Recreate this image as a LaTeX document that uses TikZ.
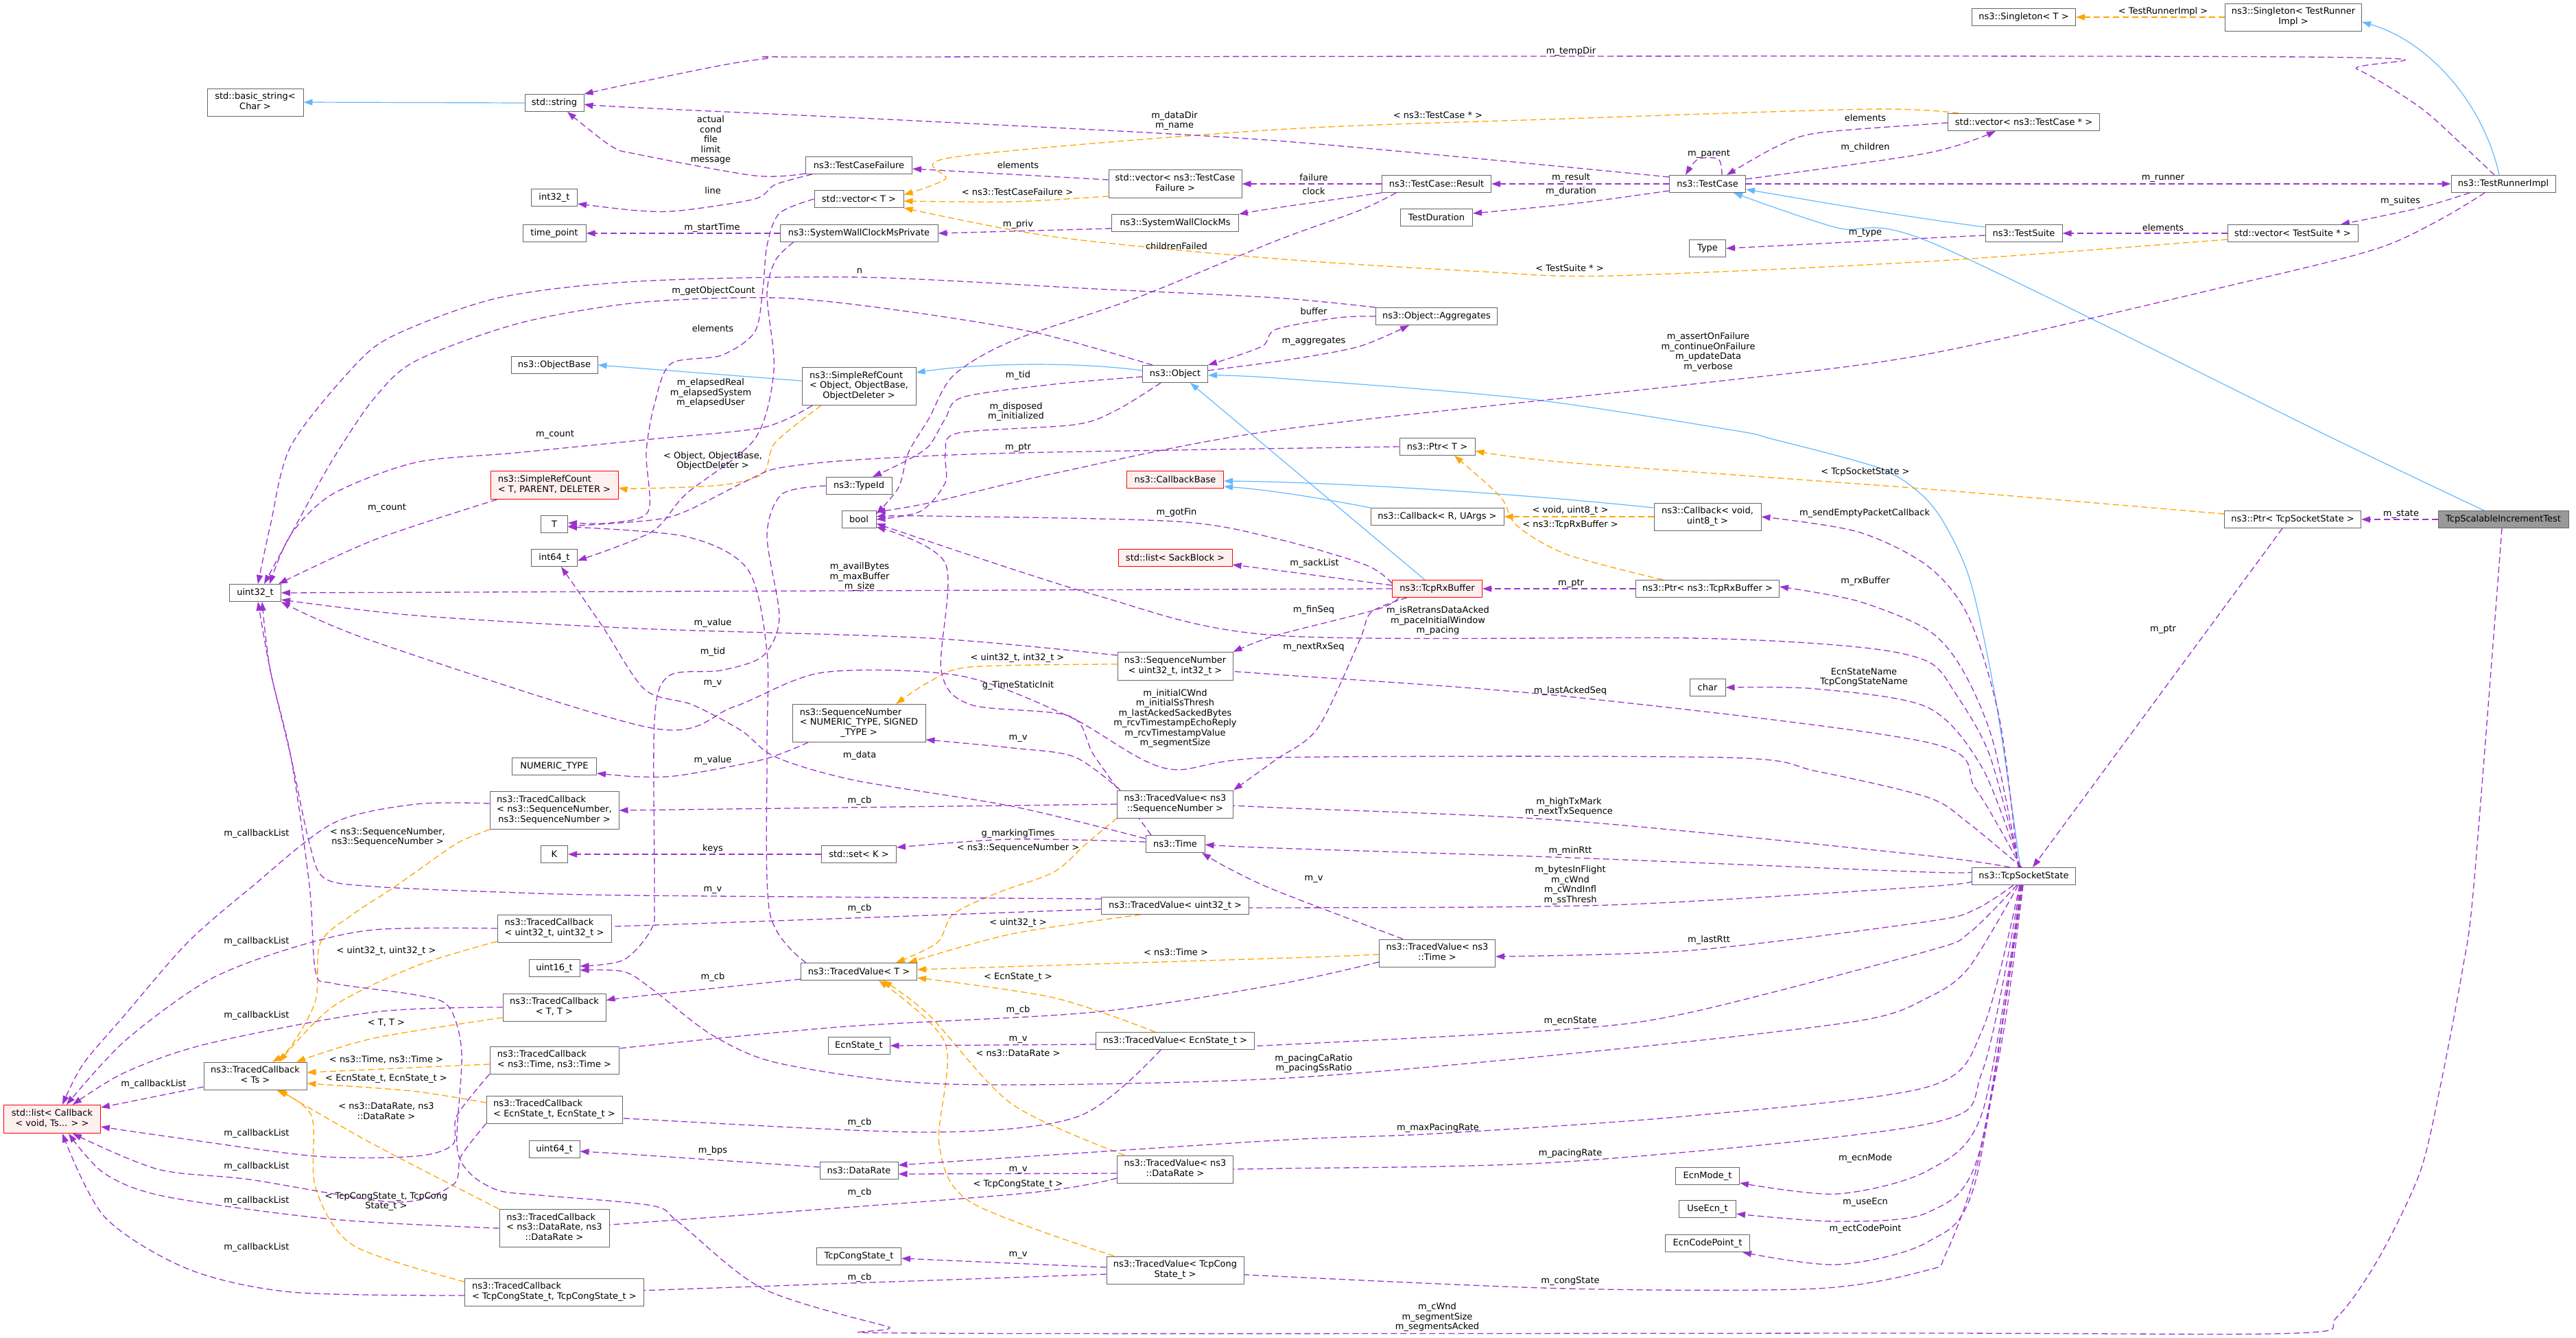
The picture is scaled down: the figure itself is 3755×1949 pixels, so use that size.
\documentclass[tikz,border=0pt]{standalone}
\usepackage{fontspec}
\setmainfont{DejaVu Sans}
\usetikzlibrary{arrows.meta}
\definecolor{usec}{HTML}{9A32CD}
\definecolor{tmplc}{HTML}{FFA500}
\definecolor{inhc}{HTML}{63B8FF}
\definecolor{boxgray}{HTML}{666666}
\definecolor{redfill}{HTML}{FFF0F0}
\definecolor{grayfill}{HTML}{999999}
\newcommand\dgfont{\fontsize{13}{14.5}\selectfont}
\newcommand\twol[2]{\begin{tabular}{@{}l@{}}#1\\\multicolumn{1}{@{}c@{}}{#2}\end{tabular}}
\newcommand\threel[3]{\begin{tabular}{@{}l@{}}#1\\#2\\\multicolumn{1}{@{}c@{}}{#3}\end{tabular}}
\pgfdeclarelayer{bg}
\pgfsetlayers{bg,main}
\tikzset{
  box/.style={draw=boxgray, fill=white, line width=1pt, inner sep=2pt, font=\dgfont},
  redbox/.style={box, draw=red, fill=redfill},
  graybox/.style={box, fill=grayfill},
  sz/.style 2 args={minimum width=#1, minimum height=#2},
  lbl/.style={inner sep=0pt, font=\dgfont, align=center},
  use/.style={draw=usec, line width=1.3pt, dash pattern=on 9pt off 5pt, -{Triangle[length=13pt,width=9pt]}},
  tmpl/.style={draw=tmplc, line width=1.3pt, dash pattern=on 9pt off 5pt, -{Triangle[length=13pt,width=9pt]}},
  inh/.style={draw=inhc, line width=1.2pt, -{Triangle[length=13pt,width=9pt]}},
}
\begin{document}
\begin{tikzpicture}[x=1pt,y=-1pt]
\useasboundingbox (0,0) rectangle (3755,1949);
% ---------------- nodes ----------------
\node[box,sz={140}{40}] (bstr) at (372,149) {\twol{std::basic\_string<}{Char >}};
\node[box,sz={86}{25}] (str) at (808,150) {std::string};
\node[box,sz={67}{25}] (i32) at (808,288) {int32\_t};
\node[box,sz={92}{25}] (tp) at (808,340) {time\_point};
\node[box,sz={126}{25}] (ob) at (808,532) {ns3::ObjectBase};
\node[redbox,sz={186}{41}] (srct) at (808,707) {\twol{ns3::SimpleRefCount}{< T, PARENT, DELETER >}};
\node[box,sz={39}{25}] (T) at (808,764) {T};
\node[box,sz={67}{25}] (i64) at (808,813) {int64\_t};
\node[box,sz={75}{25}] (u32) at (372,864) {uint32\_t};
\node[box,sz={123}{25}] (numt) at (808,1117) {NUMERIC\_TYPE};
\node[box,sz={188}{55}] (tcsn) at (808,1181) {\threel{ns3::TracedCallback}{< ns3::SequenceNumber,}{ns3::SequenceNumber >}};
\node[box,sz={39}{25}] (K) at (808,1245) {K};
\node[box,sz={166}{40}] (tcu) at (808,1353) {\twol{ns3::TracedCallback}{< uint32\_t, uint32\_t >}};
\node[box,sz={74}{25}] (u16) at (808,1411) {uint16\_t};
\node[box,sz={150}{40}] (tctt) at (808,1468) {\twol{ns3::TracedCallback}{< T, T >}};
\node[box,sz={188}{40}] (tctime) at (808,1545) {\twol{ns3::TracedCallback}{< ns3::Time, ns3::Time >}};
\node[box,sz={198}{40}] (tcecn) at (808,1617) {\twol{ns3::TracedCallback}{< EcnState\_t, EcnState\_t >}};
\node[box,sz={74}{25}] (u64) at (808,1675) {uint64\_t};
\node[box,sz={160}{55}] (tcdr) at (808,1790) {\threel{ns3::TracedCallback}{< ns3::DataRate, ns3}{::DataRate >}};
\node[box,sz={261}{40}] (tccong) at (808,1883) {\twol{ns3::TracedCallback}{< TcpCongState\_t, TcpCongState\_t >}};
\node[box,sz={150}{40}] (tcts) at (372,1568) {\twol{ns3::TracedCallback}{< Ts >}};
\node[redbox,sz={141}{41}] (cbl) at (76,1631) {\twol{std::list< Callback}{< void, Ts... > >}};
\node[box,sz={155}{25}] (tcf) at (1252,241) {ns3::TestCaseFailure};
\node[box,sz={130}{25}] (vect) at (1252,290) {std::vector< T >};
\node[box,sz={230}{25}] (swcp) at (1252,340) {ns3::SystemWallClockMsPrivate};
\node[box,sz={166}{55}] (srco) at (1252,563) {\threel{ns3::SimpleRefCount}{< Object, ObjectBase,}{ObjectDeleter >}};
\node[box,sz={96}{25}] (tid) at (1252,708) {ns3::TypeId};
\node[box,sz={50}{25}] (bool) at (1252,757) {bool};
\node[box,sz={194}{55}] (snn) at (1252,1054) {\threel{ns3::SequenceNumber}{< NUMERIC\_TYPE, SIGNED}{\_TYPE >}};
\node[box,sz={109}{25}] (setk) at (1252,1245) {std::set< K >};
\node[box,sz={169}{25}] (tvt) at (1252,1416) {ns3::TracedValue< T >};
\node[box,sz={90}{25}] (ecns) at (1252,1524) {EcnState\_t};
\node[box,sz={114}{25}] (dr) at (1252,1706) {ns3::DataRate};
\node[box,sz={123}{25}] (tcs) at (1252,1831) {TcpCongState\_t};
\node[box,sz={194}{41}] (vtcf) at (1713,268) {\twol{std::vector< ns3::TestCase}{Failure >}};
\node[box,sz={185}{25}] (swc) at (1713,325) {ns3::SystemWallClockMs};
\node[box,sz={95}{25}] (obj) at (1713,545) {ns3::Object};
\node[redbox,sz={141}{25}] (cbb) at (1713,699) {ns3::CallbackBase};
\node[redbox,sz={166}{25}] (sack) at (1713,813) {std::list< SackBlock >};
\node[box,sz={168}{41}] (snu) at (1713,971) {\twol{ns3::SequenceNumber}{< uint32\_t, int32\_t >}};
\node[box,sz={169}{40}] (tvsn) at (1713,1172) {\twol{ns3::TracedValue< ns3}{::SequenceNumber >}};
\node[box,sz={86}{25}] (time) at (1713,1230) {ns3::Time};
\node[box,sz={215}{25}] (tvu) at (1713,1320) {ns3::TracedValue< uint32\_t >};
\node[box,sz={231}{25}] (tvecn) at (1713,1517) {ns3::TracedValue< EcnState\_t >};
\node[box,sz={169}{40}] (tvdr) at (1713,1704) {\twol{ns3::TracedValue< ns3}{::DataRate >}};
\node[box,sz={200}{40}] (tvcong) at (1713,1851) {\twol{ns3::TracedValue< TcpCong}{State\_t >}};
\node[box,sz={159}{25}] (res) at (2094,268) {ns3::TestCase::Result};
\node[box,sz={105}{25}] (tdur) at (2094,317) {TestDuration};
\node[box,sz={177}{25}] (agg) at (2094,461) {ns3::Object::Aggregates};
\node[box,sz={110}{25}] (ptrt) at (2095,651) {ns3::Ptr< T >};
\node[box,sz={194}{25}] (cbr) at (2095,753) {ns3::Callback< R, UArgs >};
\node[redbox,sz={131}{25}] (rxb) at (2095,858) {ns3::TcpRxBuffer};
\node[box,sz={169}{40}] (tvtime) at (2095,1389) {\twol{ns3::TracedValue< ns3}{::Time >}};
\node[box,sz={111}{25}] (tc) at (2489,268) {ns3::TestCase};
\node[box,sz={53}{25}] (type) at (2489,362) {Type};
\node[box,sz={156}{40}] (cbv) at (2489,753) {\twol{ns3::Callback< void,}{uint8\_t >}};
\node[box,sz={209}{25}] (ptrrx) at (2489,858) {ns3::Ptr< ns3::TcpRxBuffer >};
\node[box,sz={52}{25}] (char) at (2489,1002) {char};
\node[box,sz={93}{25}] (ecnm) at (2489,1714) {EcnMode\_t};
\node[box,sz={83}{25}] (usee) at (2489,1762) {UseEcn\_t};
\node[box,sz={123}{25}] (ecp) at (2489,1812) {EcnCodePoint\_t};
\node[box,sz={151}{25}] (sgt) at (2950,25) {ns3::Singleton< T >};
\node[box,sz={221}{25}] (vtc) at (2950,178) {std::vector< ns3::TestCase * >};
\node[box,sz={112}{25}] (ts) at (2950,340) {ns3::TestSuite};
\node[box,sz={151}{25}] (tss) at (2950,1277) {ns3::TcpSocketState};
\node[box,sz={199}{40}] (sgr) at (3343,25) {\twol{ns3::Singleton< TestRunner}{Impl >}};
\node[box,sz={190}{25}] (vts) at (3342,340) {std::vector< TestSuite * >};
\node[box,sz={199}{25}] (ptrss) at (3342,757) {ns3::Ptr< TcpSocketState >};
\node[box,sz={152}{25}] (tri) at (3649,268) {ns3::TestRunnerImpl};
\node[graybox,sz={190}{25}] (tsit) at (3649,757) {TcpScalableIncrementTest};
% ---------------- labels ----------------
\node[lbl] (l1) at (1036,204) {actual\\cond\\file\\limit\\message};
\node[lbl] (l2) at (1039,278) {line};
\node[lbl] (l3) at (1484,241) {elements};
\node[lbl] (l4) at (1483,280) {< ns3::TestCaseFailure >};
\node[lbl] (l5) at (1484,327) {m\_priv};
\node[lbl] (l6) at (1715,359) {childrenFailed};
\node[lbl] (l7) at (1712,176) {m\_dataDir\\m\_name};
\node[lbl] (l8) at (1038,332) {m\_startTime};
\node[lbl] (l9) at (1253,395) {n};
\node[lbl] (l10) at (1040,424) {m\_getObjectCount};
\node[lbl] (l11) at (1039,479) {elements};
\node[lbl] (l12) at (1036,573) {m\_elapsedReal\\m\_elapsedSystem\\m\_elapsedUser};
\node[lbl] (l13) at (1484,547) {m\_tid};
\node[lbl] (l14) at (1481,600) {m\_disposed\\m\_initialized};
\node[lbl] (l15) at (1484,652) {m\_ptr};
\node[lbl] (l16) at (2290,75) {m\_tempDir};
\node[lbl] (l17) at (2096,168) {< ns3::TestCase * >};
\node[lbl] (l18) at (2719,172) {elements};
\node[lbl] (l19) at (2491,224) {m\_parent};
\node[lbl] (l20) at (2719,215) {m\_children};
\node[lbl] (l21) at (1915,259) {failure};
\node[lbl] (l22) at (2290,259) {m\_result};
\node[lbl] (l23) at (1915,279) {clock};
\node[lbl] (l24) at (2290,279) {m\_duration};
\node[lbl] (l25) at (2719,339) {m\_type};
\node[lbl] (l26) at (2288,391) {< TestSuite * >};
\node[lbl] (l27) at (1915,454) {buffer};
\node[lbl] (l28) at (1915,497) {m\_aggregates};
\node[lbl] (l29) at (2490,513) {m\_assertOnFailure\\m\_continueOnFailure\\m\_updateData\\m\_verbose};
\node[lbl] (l30) at (3153,17) {< TestRunnerImpl >};
\node[lbl] (l31) at (3153,260) {m\_runner};
\node[lbl] (l32) at (3499,293) {m\_suites};
\node[lbl] (l33) at (3153,332) {elements};
\node[lbl] (l34) at (564,740) {m\_count};
\node[lbl] (l35) at (809,633) {m\_count};
\node[lbl] (l36) at (374,1215) {m\_callbackList};
\node[lbl] (l37) at (565,1220) {< ns3::SequenceNumber,\\ns3::SequenceNumber >};
\node[lbl] (l38) at (1039,672) {< Object, ObjectBase,\\ObjectDeleter >};
\node[lbl] (l39) at (1715,747) {m\_gotFin};
\node[lbl] (l40) at (1253,841) {m\_availBytes\\m\_maxBuffer\\m\_size};
\node[lbl] (l41) at (1039,908) {m\_value};
\node[lbl] (l42) at (1039,950) {m\_tid};
\node[lbl] (l43) at (1483,959) {< uint32\_t, int32\_t >};
\node[lbl] (l44) at (1039,996) {m\_v};
\node[lbl] (l45) at (1484,999) {g\_TimeStaticInit};
\node[lbl] (l46) at (1713,1047) {m\_initialCWnd\\m\_initialSsThresh\\m\_lastAckedSackedBytes\\m\_rcvTimestampEchoReply\\m\_rcvTimestampValue\\m\_segmentSize};
\node[lbl] (l47) at (1484,1076) {m\_v};
\node[lbl] (l48) at (1039,1108) {m\_value};
\node[lbl] (l49) at (1253,1101) {m\_data};
\node[lbl] (l50) at (1253,1167) {m\_cb};
\node[lbl] (l51) at (1484,1215) {g\_markingTimes};
\node[lbl] (l52) at (1484,1236) {< ns3::SequenceNumber >};
\node[lbl] (l53) at (1039,1237) {keys};
\node[lbl] (l54) at (2719,688) {< TcpSocketState >};
\node[lbl] (l55) at (2289,744) {< void, uint8\_t >};
\node[lbl] (l56) at (2289,765) {< ns3::TcpRxBuffer >};
\node[lbl] (l57) at (2718,748) {m\_sendEmptyPacketCallback};
\node[lbl] (l58) at (1916,821) {m\_sackList};
\node[lbl] (l59) at (2290,850) {m\_ptr};
\node[lbl] (l60) at (2719,847) {m\_rxBuffer};
\node[lbl] (l61) at (1915,889) {m\_finSeq};
\node[lbl] (l62) at (2096,905) {m\_isRetransDataAcked\\m\_paceInitialWindow\\m\_pacing};
\node[lbl] (l63) at (1915,943) {m\_nextRxSeq};
\node[lbl] (l64) at (2717,987) {EcnStateName\\TcpCongStateName};
\node[lbl] (l65) at (2289,1007) {m\_lastAckedSeq};
\node[lbl] (l66) at (2287,1176) {m\_highTxMark\\m\_nextTxSequence};
\node[lbl] (l67) at (2289,1240) {m\_minRtt};
\node[lbl] (l68) at (2289,1290) {m\_bytesInFlight\\m\_cWnd\\m\_cWndInfl\\m\_ssThresh};
\node[lbl] (l69) at (1915,1281) {m\_v};
\node[lbl] (l70) at (3500,749) {m\_state};
\node[lbl] (l71) at (3153,917) {m\_ptr};
\node[lbl] (l72) at (374,1372) {m\_callbackList};
\node[lbl] (l73) at (563,1386) {< uint32\_t, uint32\_t >};
\node[lbl] (l74) at (374,1480) {m\_callbackList};
\node[lbl] (l75) at (563,1490) {< T, T >};
\node[lbl] (l76) at (563,1544) {< ns3::Time, ns3::Time >};
\node[lbl] (l77) at (563,1572) {< EcnState\_t, EcnState\_t >};
\node[lbl] (l78) at (224,1580) {m\_callbackList};
\node[lbl] (l79) at (563,1619) {< ns3::DataRate, ns3\\::DataRate >};
\node[lbl] (l80) at (374,1652) {m\_callbackList};
\node[lbl] (l81) at (374,1700) {m\_callbackList};
\node[lbl] (l82) at (563,1751) {< TcpCongState\_t, TcpCong\\State\_t >};
\node[lbl] (l83) at (374,1750) {m\_callbackList};
\node[lbl] (l84) at (374,1818) {m\_callbackList};
\node[lbl] (l85) at (1039,1297) {m\_v};
\node[lbl] (l86) at (1253,1324) {m\_cb};
\node[lbl] (l87) at (1484,1345) {< uint32\_t >};
\node[lbl] (l88) at (1714,1388) {< ns3::Time >};
\node[lbl] (l89) at (1039,1424) {m\_cb};
\node[lbl] (l90) at (1484,1424) {< EcnState\_t >};
\node[lbl] (l91) at (1484,1472) {m\_cb};
\node[lbl] (l92) at (1484,1515) {m\_v};
\node[lbl] (l93) at (1484,1535) {< ns3::DataRate >};
\node[lbl] (l94) at (1253,1636) {m\_cb};
\node[lbl] (l95) at (1039,1677) {m\_bps};
\node[lbl] (l96) at (1484,1705) {m\_v};
\node[lbl] (l97) at (1484,1726) {< TcpCongState\_t >};
\node[lbl] (l98) at (1253,1738) {m\_cb};
\node[lbl] (l99) at (1484,1829) {m\_v};
\node[lbl] (l100) at (1253,1862) {m\_cb};
\node[lbl] (l101) at (2491,1370) {m\_lastRtt};
\node[lbl] (l102) at (2289,1488) {m\_ecnState};
\node[lbl] (l103) at (1915,1550) {m\_pacingCaRatio\\m\_pacingSsRatio};
\node[lbl] (l104) at (2096,1644) {m\_maxPacingRate};
\node[lbl] (l105) at (2289,1681) {m\_pacingRate};
\node[lbl] (l106) at (2719,1688) {m\_ecnMode};
\node[lbl] (l107) at (2719,1752) {m\_useEcn};
\node[lbl] (l108) at (2719,1791) {m\_ectCodePoint};
\node[lbl] (l109) at (2289,1867) {m\_congState};
\node[lbl] (l110) at (2095,1920) {m\_cWnd\\m\_segmentSize\\m\_segmentsAcked};
% ---------------- edges ----------------
\begin{pgfonlayer}{bg}
% inheritance
\draw[inh] (str.west) -- (bstr.east);
\draw[inh] ([yshift=8]srco.west) -- (ob.east);
\draw[inh] ([yshift=5]obj.west) .. controls (1560,526) and (1420,530) .. ([yshift=20]srco.east);
\draw[inh] ([xshift=-18]rxb.north) -- ([xshift=22]obj.south);
\draw[inh] plot[smooth] coordinates {([xshift=-5]tss.north) (2909,1019) (2873,850) (2836,766) (2800,720) (2739,682) (2584,640) (2526,627) (2224,581) (1861,551) ([yshift=-2]obj.east)};
\draw[inh] ([yshift=13]cbv.west) .. controls (2200,718) and (1950,703) .. ([yshift=-2]cbb.east);
\draw[inh] (cbr.north west) .. controls (1920,725) and (1850,714) .. ([yshift=-10]cbb.east);
\draw[inh] ([yshift=9]ts.west) .. controls (2750,312) and (2640,292) .. ([yshift=-8]tc.east);
\draw[inh] plot[smooth] coordinates {([xshift=-28]tsit.north) (3403,640) (2821,356) (2678,332) ([xshift=38]tc.south)};
\draw[inh] ([xshift=-6]tri.north) .. controls (3620,150) and (3540,60) .. ([yshift=-7]sgr.east);
% template instances
\draw[tmpl] (sgr.west) -- (sgt.east);
\draw[tmpl] plot[smooth] coordinates {([xshift=-95]vtc.north) (2726,159) (2284,173) (1860,189) (1390,229) (1378,261) ([yshift=6]vect.east)};
\draw[tmpl] plot[smooth] coordinates {([yshift=-18]vtcf.west) (1475,294) ([yshift=-3]vect.east)};
\draw[tmpl] plot[smooth] coordinates {([yshift=-9]vts.west) (2810,381) (2345,402) (2163,396) (1860,377) (1536,345) (vect.south east)};
\draw[tmpl] plot[smooth] coordinates {([xshift=-55]srco.south) (1130,645) (1112,690) (1051,707) (930,712) ([yshift=-4]srct.east)};
\draw[tmpl] (cbv.west) -- (cbr.east);
\draw[tmpl] plot[smooth] coordinates {([xshift=-65]ptrrx.north) (2284,808) (2211,766) (2187,724) ([xshift=25]ptrt.south)};
\draw[tmpl] plot[smooth] coordinates {([yshift=8]ptrss.west) (2800,712) (2284,674) ([yshift=-6]ptrt.east)};
\draw[tmpl] plot[smooth] coordinates {([yshift=3]snu.west) (1415,972) (1354,994) ([xshift=54]snn.north)};
\draw[tmpl] plot[smooth] coordinates {(tcsn.south west) (666,1229) (606,1271) (564,1300) (515,1332) (467,1374) (460,1458) (424,1525) ([xshift=25]tcts.north)};
\draw[tmpl] plot[smooth] coordinates {([yshift=-19]tcu.west) (606,1408) (485,1467) ([xshift=35]tcts.north)};
\draw[tmpl] plot[smooth] coordinates {([yshift=-15]tctt.west) (545,1513) ([xshift=60]tcts.north)};
\draw[tmpl] plot[smooth] coordinates {([yshift=-6]tctime.west) (600,1556) ([yshift=5]tcts.east)};
\draw[tmpl] plot[smooth] coordinates {([yshift=10]tcecn.west) (600,1590) ([yshift=-11]tcts.east)};
\draw[tmpl] plot[smooth] coordinates {(tcdr.north west) (545,1668) ([xshift=34]tcts.south)};
\draw[tmpl] plot[smooth] coordinates {([yshift=15]tccong.west) (515,1815) (460,1731) (454,1626) ([xshift=31]tcts.south)};
\draw[tmpl] plot[smooth] coordinates {(tvsn.south west) (1584,1229) (1536,1271) (1457,1300) (1390,1332) (1366,1374) ([xshift=54]tvt.north)};
\draw[tmpl] plot[smooth] coordinates {([xshift=-50]tvu.south) (1475,1361) ([xshift=72]tvt.north)};
\draw[tmpl] plot[smooth] coordinates {([yshift=-2]tvtime.west) (1880,1396) ([yshift=3]tvt.east)};
\draw[tmpl] plot[smooth] coordinates {([xshift=-29]tvecn.north) (1536,1454) ([yshift=-9]tvt.east)};
\draw[tmpl] plot[smooth] coordinates {([xshift=-74]tvdr.north) (1475,1609) (1354,1479) ([xshift=35]tvt.south)};
\draw[tmpl] plot[smooth] coordinates {([xshift=-89]tvcong.north) (1415,1752) (1369,1668) (1378,1521) ([xshift=29]tvt.south)};
% usage
\draw[use] plot[smooth] coordinates {([yshift=10]tc.west) (1860,205) (1354,177) (930,157) ([yshift=-2]str.east)};
\draw[use] plot[smooth] coordinates {([xshift=-13]tri.north) (3588,210) (3527,156) (3436,101) (3357,83) (1300,83) (1112,86) (930,120) (str.north east)};
\draw[use] plot[smooth] coordinates {([yshift=-12]tcf.west) (1100,256) (930,225) (891,213) ([xshift=19]str.south)};
\draw[use] plot[smooth] coordinates {([xshift=10]tcf.south west) (1130,269) (1100,290) (991,307) (930,307) ([yshift=-9]i32.east)};
\draw[use] (swcp.west) -- (tp.east);
\draw[use] plot[smooth] coordinates {([xshift=20]swcp.south west) (1130,380) (1118,430) (1128,540) (1100,640) (1000,720) (950,775) ([yshift=-4]i64.east)};
\draw[use] ([yshift=-8]swc.west) -- (swcp.east);
\draw[use] ([yshift=6]vtcf.west) -- ([yshift=-5]tcf.east);
\draw[use] (res.west) -- (vtcf.east);
\draw[use] plot[smooth] coordinates {(res.south west) (1860,303) (swc.north east)};
\draw[use] plot[smooth] coordinates {([xshift=21]res.south west) (1981,307) (1860,351) (1657,434) (1475,497) (1390,547) (1354,610) (1324,660) (1310,710) ([yshift=8]bool.east)};
\draw[use] (tc.west) -- (res.east);
\draw[use] plot[smooth] coordinates {([yshift=-10]tc.west) (2300,296) ([yshift=6]tdur.east)};
\draw[use] plot[smooth] coordinates {([xshift=21]tc.north) (2505,232) (2475,232) ([xshift=-32]tc.north)};
\draw[use] plot[smooth] coordinates {([yshift=-1]vtc.west) (2810,181) (2648,194) (2587,215) ([xshift=28]tc.north)};
\draw[use] plot[smooth] coordinates {([yshift=7]tc.east) (2810,223) ([xshift=-41]vtc.south)};
\draw[use] (tc.east) -- (tri.west);
\draw[use] plot[smooth] coordinates {([xshift=-49]tri.south) (3527,303) ([xshift=70]vts.north)};
\draw[use] (vts.west) -- (ts.east);
\draw[use] plot[smooth] coordinates {([yshift=-3]ts.west) (2810,347) (type.east)};
\draw[use] plot[smooth] coordinates {([xshift=-27]tri.south) (3557,320) (3466,362) (3285,408) (2810,516) (2466,560) (1860,627) (1536,690) (1354,733) ([yshift=11]bool.east)};
\draw[use] plot[smooth] coordinates {(agg.north west) (1860,434) (1596,421) (1253,404) (930,410) (727,434) (576,488) (515,535) (424,650) (394,766) ([xshift=4]u32.north)};
\draw[use] plot[smooth] coordinates {([xshift=-33]obj.north) (1506,484) (1294,450) (1130,434) (930,441) (757,471) (606,526) (545,581) (491,660) (454,724) ([xshift=13]u32.north)};
\draw[use] plot[smooth] coordinates {(agg.west) (1951,463) (1860,480) (1839,505) (obj.north east)};
\draw[use] plot[smooth] coordinates {([yshift=5]obj.east) (1880,524) (1981,505) ([xshift=-40]agg.south)};
\draw[use] plot[smooth] coordinates {([yshift=-4]obj.west) (1536,560) (1403,579) (1378,610) (1354,650) (1320,672) ([xshift=20]tid.north)};
\draw[use] plot[smooth] coordinates {([xshift=-21]obj.south) (1627,598) (1566,619) (1397,631) (1378,660) (1378,703) (1342,745) (bool.east)};
\draw[use] plot[smooth] coordinates {([xshift=10]srct.south west) (545,787) ([xshift=34]u32.north)};
\draw[use] plot[smooth] coordinates {([xshift=-68]srco.south) (1112,623) (950,640) (751,660) (606,674) (485,720) (424,779) ([xshift=21]u32.north)};
\draw[use] plot[smooth] coordinates {(ptrt.west) (1484,660) (1250,670) (1136,682) (1090,700) (1000,745) (950,758) ([yshift=-3]T.east)};
\draw[use] plot[smooth] coordinates {(vect.west) (1136,311) (1118,358) (1112,421) (1100,484) (1051,518) (978,530) (954,589) (942,660) (945,745) (891,762) ([yshift=2]T.east)};
\draw[use] plot[smooth] coordinates {(tid.west) (1140,720) (1118,780) (1136,900) (1112,956) (1051,977) (975,985) (954,1050) (954,1300) (950,1353) (909,1399) ([yshift=3]u16.east)};
\draw[use] plot[smooth] coordinates {([yshift=8]rxb.west) (1990,823) (1860,785) (1715,760) (1354,752) ([yshift=4]bool.east)};
\draw[use] plot[smooth] coordinates {([yshift=5]rxb.west) (1860,831) ([yshift=-10]sack.east)};
\draw[use] (rxb.west) -- (u32.east);
\draw[use] plot[smooth] coordinates {([xshift=10]rxb.south west) (2008,888) (1860,926) (snu.north east)};
\draw[use] plot[smooth] coordinates {([xshift=-44]rxb.south) (1999,892) (1981,935) (1921,1061) (1860,1107) (tvsn.north east)};
\draw[use] (ptrrx.west) -- (rxb.east);
\draw[use] plot[smooth] coordinates {([yshift=16]snu.west) (1354,930) (930,916) (606,897) ([yshift=-10]u32.east)};
\draw[use] plot[smooth] coordinates {([xshift=-74]snn.south) (1112,1107) (991,1130) (930,1132) ([yshift=-10]numt.east)};
\draw[use] plot[smooth] coordinates {([xshift=-80]tvsn.north) (1566,1103) (1475,1090) ([yshift=-24]snn.east)};
\draw[use] (tvsn.west) -- (tcsn.east);
\draw[use] plot[smooth] coordinates {([yshift=8]time.west) (1475,1175) (1245,1137) (1130,1103) (1081,1065) (1009,1027) (940,1005) (879,914) ([xshift=10]i64.south)};
\draw[use] plot[smooth] coordinates {([xshift=-35]time.north) (1596,1103) (1560,1044) (1415,1027) (1372,977) (1378,821) ([yshift=-11]bool.east)};
\draw[use] plot[smooth] coordinates {([yshift=3]time.west) (1475,1223) ([yshift=10]setk.east)};
\draw[use] (setk.west) -- (K.east);
\draw[use] plot[smooth] coordinates {([yshift=10]tvu.west) (930,1305) (727,1300) (545,1292) (473,1280) (451,1229) (424,1103) (394,977) ([xshift=4]u32.south)};
\draw[use] plot[smooth] coordinates {([yshift=-5]tvu.west) (930,1349) ([yshift=4]tcu.east)};
\draw[use] plot[smooth] coordinates {([xshift=-77]tvt.north) (1122,1330) (1118,1100) (1118,950) (1090,830) (1000,782) ([yshift=-4]T.east)};
\draw[use] plot[smooth] coordinates {([yshift=-11]tvt.west) (930,1452) ([yshift=10]tctt.east)};
\draw[use] plot[smooth] coordinates {([xshift=-50]tvtime.north) (1860,1298) (1790,1265) ([xshift=39]time.south)};
\draw[use] plot[smooth] coordinates {([yshift=-13]tvtime.west) (1860,1435) (1596,1475) (1233,1496) (930,1525) ([yshift=16]tctime.east)};
\draw[use] ([yshift=-5]tvecn.west) -- (ecns.east);
\draw[use] plot[smooth] coordinates {([xshift=-21]tvecn.south) (1572,1627) (1354,1650) (930,1631) ([yshift=-11]tcecn.east)};
\draw[use] plot[smooth] coordinates {([yshift=5]dr.west) (930,1683) ([yshift=-3]u64.east)};
\draw[use] ([yshift=-6]tvdr.west) -- ([yshift=-5]dr.east);
\draw[use] plot[smooth] coordinates {([yshift=-13]tvdr.west) (1484,1740) (930,1782) ([yshift=6]tcdr.east)};
\draw[use] ([yshift=4]tvcong.west) -- ([yshift=-3]tcs.east);
\draw[use] plot[smooth] coordinates {([yshift=-6]tvcong.west) (930,1881) ([yshift=2]tccong.east)};
\draw[use] (tsit.west) -- (ptrss.east);
\draw[use] ([xshift=-15]ptrss.south) -- ([xshift=13]tss.north);
\draw[use] plot[smooth] coordinates {([xshift=-2]tsit.south) (3606,1290) (3589,1416) (3557,1584) (3527,1710) (3466,1836) (3406,1920) (3345,1943) (2800,1943) (1354,1943) (1293,1933) (1112,1878) (990,1782) (950,1757) (788,1742) (727,1735) (685,1710) (666,1668) (673,1534) (654,1467) (606,1450) (485,1433) (460,1416) (451,1290) (424,1103) (394,977) ([xshift=10]u32.south)};
% TcpSocketState fan
\draw[use] plot[smooth] coordinates {([xshift=-8]tss.north) (2915,1050) (2870,900) (2810,825) (2708,775) (cbv.east)};
\draw[use] plot[smooth] coordinates {([xshift=-7]tss.north) (2905,1080) (2860,975) (2810,918) (2708,876) ([yshift=3]ptrrx.east)};
\draw[use] plot[smooth] coordinates {([xshift=-6]tss.north) (2900,1100) (2850,1010) (2810,964) (2708,943) (2466,930) (1860,926) (1596,867) ([yshift=-6]bool.east)};
\draw[use] plot[smooth] coordinates {([xshift=-5]tss.north) (2890,1120) (2810,1031) (2648,1004) (char.east)};
\draw[use] plot[smooth] coordinates {([xshift=-4]tss.north) (2880,1150) (2810,1082) (2284,1015) (1860,983) ([yshift=-8]snu.east)};
\draw[use] plot[smooth] coordinates {([xshift=-3]tss.north) (2870,1200) (2810,1162) (2648,1124) (2514,1104) (1860,1104) (1700,1120) (1560,1045) (1400,985) (1200,980) (1070,1030) (950,1061) (545,935) (u32.south east)};
\draw[use] plot[smooth] coordinates {([xshift=-20]tss.north) (2800,1246) (2284,1196) (1860,1177) ([yshift=-2]tvsn.east)};
\draw[use] plot[smooth] coordinates {([yshift=7]tss.west) (2810,1271) (2289,1250) (1860,1236) ([yshift=-1]time.east)};
\draw[use] plot[smooth] coordinates {([yshift=-7]tss.west) (2810,1292) (2345,1319) (1860,1323) ([yshift=-2]tvu.east)};
\draw[use] plot[smooth] coordinates {([xshift=-15]tss.south) (2880,1325) (2810,1343) (2466,1385) ([yshift=-5]tvtime.east)};
\draw[use] plot[smooth] coordinates {([xshift=-10]tss.south) (2870,1360) (2810,1386) (2466,1475) (2284,1500) (1860,1523) ([yshift=-6]tvecn.east)};
\draw[use] plot[smooth] coordinates {([xshift=-8]tss.south) (2870,1410) (2810,1454) (2708,1488) (2345,1530) (1860,1572) (1384,1580) (1142,1551) (1039,1509) (950,1441) (909,1416) ([yshift=-3]u16.east)};
\draw[use] plot[smooth] coordinates {([xshift=-6]tss.south) (2890,1500) (2810,1584) (2466,1626) (2096,1652) (1860,1662) ([yshift=8]dr.east)};
\draw[use] plot[smooth] coordinates {([xshift=-5]tss.south) (2890,1560) (2810,1638) (2284,1693) (1860,1703) ([yshift=1]tvdr.east)};
\draw[use] plot[smooth] coordinates {([xshift=-4]tss.south) (2890,1620) (2810,1706) (2678,1740) ([yshift=-10]ecnm.east)};
\draw[use] plot[smooth] coordinates {([xshift=-3]tss.south) (2885,1680) (2810,1767) (2678,1780) ([yshift=-7]usee.east)};
\draw[use] plot[smooth] coordinates {([xshift=-2]tss.south) (2880,1720) (2810,1810) (2678,1843) ([xshift=-11]ecp.south east)};
\draw[use] plot[smooth] coordinates {([xshift=-1]tss.south) (2921,1500) (2879,1710) (2836,1828) (2810,1851) (2648,1878) (2284,1878) (1860,1860) ([yshift=-6]tvcong.east)};
% callback lists
\draw[use] plot[smooth] coordinates {([yshift=10]tcsn.west) (606,1172) (485,1200) (364,1295) (273,1374) (182,1479) (121,1551) ([xshift=15]cbl.north)};
\draw[use] plot[smooth] coordinates {(tcu.west) (545,1355) (424,1382) (303,1429) (182,1517) ([xshift=21]cbl.north)};
\draw[use] plot[smooth] coordinates {(tctt.west) (545,1475) (303,1521) (182,1563) ([xshift=30]cbl.north)};
\draw[use] ([yshift=-16]tcts.west) -- ([yshift=17]cbl.east);
\draw[use] plot[smooth] coordinates {(tctime.south west) (666,1626) (660,1668) (606,1685) (460,1685) (242,1656) ([yshift=-11]cbl.east)};
\draw[use] plot[smooth] coordinates {(tcecn.south west) (672,1685) (660,1727) (576,1752) (364,1719) (230,1704) ([xshift=30]cbl.south)};
\draw[use] plot[smooth] coordinates {(tcdr.west) (485,1777) (242,1744) (152,1710) ([xshift=24]cbl.south)};
\draw[use] plot[smooth] coordinates {([yshift=-5]tccong.west) (424,1883) (273,1849) (152,1773) ([xshift=15]cbl.south)};
\end{pgfonlayer}
\end{tikzpicture}
\end{document}
